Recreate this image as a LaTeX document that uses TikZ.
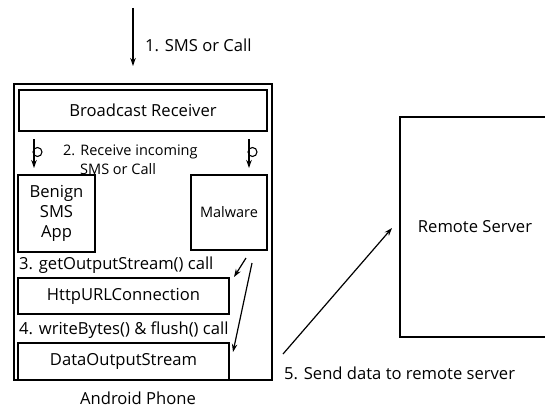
\documentclass[tikz,border=0pt]{standalone}
\usepackage{fontspec}
\setmainfont{Open Sans}
\usetikzlibrary{arrows.meta}
\begin{document}
\begin{tikzpicture}[x=1pt,y=-1pt,
  box/.style={draw,line width=1.3pt,inner sep=0pt,font=\fontsize{16.6}{20}\selectfont,align=center},
  lbl/.style={inner sep=0pt,anchor=west,font=\fontsize{16.6}{20}\selectfont},
  arr/.style={line width=1.2pt,-{Stealth[length=8pt,width=5.5pt]}},
  loopmark/.style={line width=1.1pt}]
\useasboundingbox (0,0) rectangle (545,417);
% phone
\node[box,minimum width=258pt,minimum height=296pt] (phone) at (143,232) {};
\node[box,minimum width=248pt,minimum height=41pt] (br) at (143,110.5) {Broadcast Receiver};
\node[box,minimum width=77pt,minimum height=77pt] (benign) at (56.5,213.5) {Benign\\SMS\\App};
\node[box,minimum width=76pt,minimum height=75pt,font=\fontsize{14.5}{17}\selectfont] (mal) at (229,212.5) {Malware};
\node[box,minimum width=211pt,minimum height=36pt] (http) at (123.5,296) {HttpURLConnection};
\node[box,minimum width=211pt,minimum height=37pt] (dos) at (123.5,361.5) {DataOutputStream};
\node[box,minimum width=150pt,minimum height=220pt] (server) at (475,227) {Remote Server};
% labels
\node[lbl] (l1) at (145,45) {1. SMS or Call};
\node[lbl,align=left,font=\fontsize{14.5}{19}\selectfont] (l2) at (63,159.5) {2. Receive incoming\\\hspace*{17pt}SMS or Call};
\node[lbl] (l3) at (19,265) {3. getOutputStream() call};
\node[lbl] (l4) at (19,330) {4. writeBytes() \& flush() call};
\node[inner sep=0pt,font=\fontsize{16.6}{20}\selectfont] (l6) at (138,398) {Android Phone};
\node[lbl] (l5) at (284,373) {5. Send data to remote server};
% arrows
\coordinate (a1s) at (133,8); \coordinate (a1e) at (133,66);
\draw[arr] (a1s) -- (a1e);
\coordinate (bls) at (34,139); \coordinate (ble) at (34,168);
\draw[arr] (bls) -- (ble);
\draw[loopmark] (37.5,152) circle (4.5);
\coordinate (brs) at (249,139); \coordinate (bre) at (249,168);
\draw[arr] (brs) -- (bre);
\draw[loopmark] (252.5,152) circle (4.5);
\coordinate (a3s) at (246,258); \coordinate (a3e) at (234,277);
\draw[arr] (a3s) -- (a3e);
\coordinate (a4s) at (252,263); \coordinate (a4e) at (233,352);
\draw[arr] (a4s) -- (a4e);
\coordinate (a5s) at (283,354); \coordinate (a5e) at (392,228);
\draw[arr] (a5s) -- (a5e);
\end{tikzpicture}
\end{document}
